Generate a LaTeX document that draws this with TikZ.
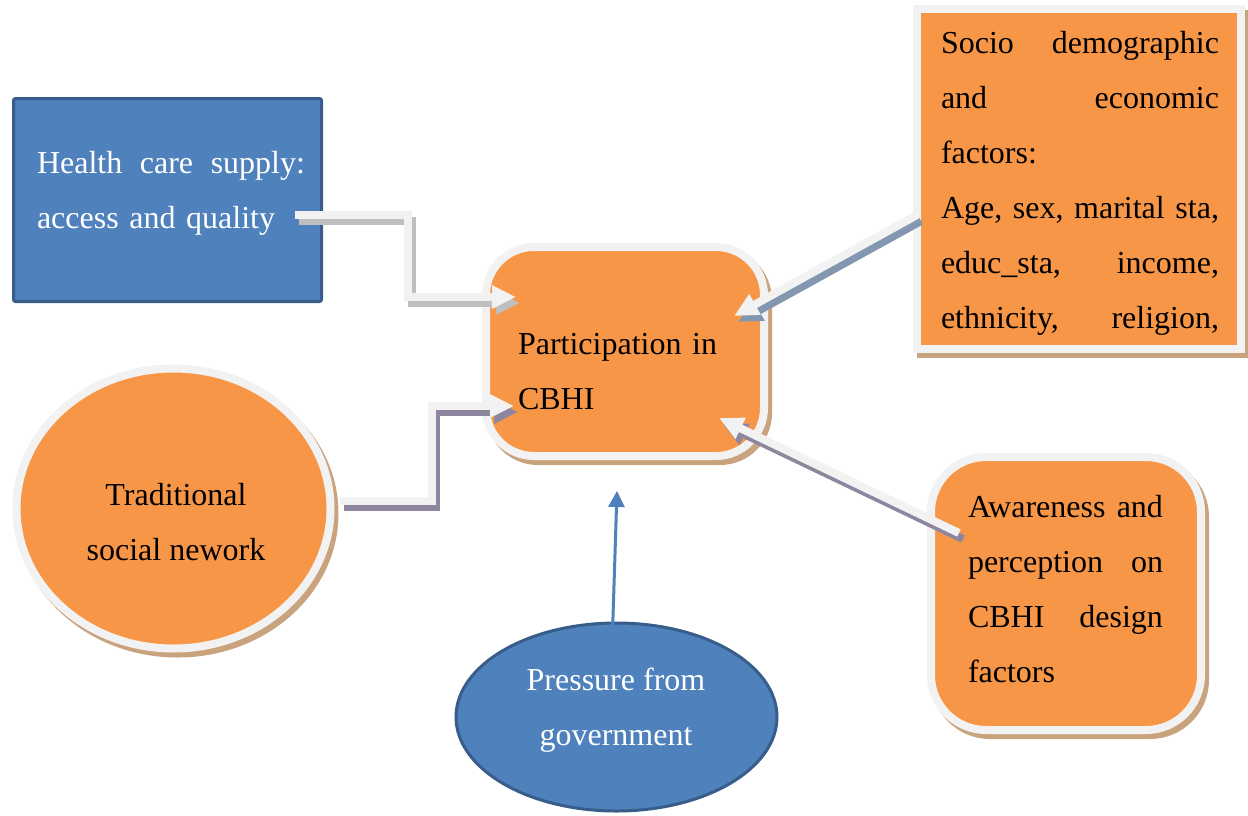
\documentclass[tikz,border=0pt]{standalone}
\usepackage{fontspec}
\setmainfont{Liberation Serif}
\usetikzlibrary{arrows.meta,shapes.geometric,shadows}
\definecolor{orng}{HTML}{F79646}
\definecolor{blu}{HTML}{4F81BD}
\definecolor{dblu}{HTML}{385D8A}
\definecolor{lgray}{HTML}{F2F2F2}
\definecolor{sbrown}{HTML}{C9A27E}
\definecolor{sgray}{HTML}{BFBFBF}
\definecolor{spurple}{HTML}{8E869E}
\definecolor{sblue}{HTML}{8497B0}
\newcommand\jl[2]{\leavevmode\hbox to #1{#2}}
\begin{document}
\begin{tikzpicture}[x=1pt,y=-1pt,
  every node/.style={font=\fontsize{32}{55}\selectfont},
  txt/.style={inner sep=0pt, align=left},
  orshape/.style={fill=orng, draw=lgray, line width=8pt,
     drop shadow={shadow xshift=4pt, shadow yshift=-5pt, fill=sbrown, draw=sbrown, line width=8pt, opacity=1}},
  bluebox/.style={fill=blu, draw=dblu, line width=3pt},
  conn/.style={draw=lgray, line width=8pt, -{Triangle[width=22pt,length=24pt]}},
  connshadow/.style={line width=8pt, -{Triangle[width=22pt,length=24pt]}, transform canvas={shift={(4,6)}}},
  bluearrow/.style={draw=blu, line width=3pt, -{Triangle[width=16pt,length=16pt]}}
]
\useasboundingbox (0,0) rectangle (1248,815);
\fill[white] (0,0) rectangle (1248,815);

% shapes
\node[bluebox, rectangle, rounded corners=2pt, minimum width=308pt, minimum height=203pt] (health) at (167.5,200) {};
\node[orshape, rectangle, rounded corners=48pt, minimum width=278pt, minimum height=209pt] (cbhi) at (625,351.5) {};
\node[orshape, rectangle, minimum width=324pt, minimum height=340pt] (socio) at (1079,179) {};
\node[orshape, ellipse, inner sep=0pt, minimum width=314pt, minimum height=280pt] (trad) at (173.5,508.5) {};
\node[orshape, rectangle, rounded corners=55pt, minimum width=270pt, minimum height=273pt] (aware) at (1066,593.5) {};
\node[bluebox, ellipse, inner sep=0pt, minimum width=321pt, minimum height=188pt] (press) at (616.5,717) {};

% texts
\node[txt, text width=268pt, text=white] (healthtxt) at (171,193) {\jl{268pt}{Health\hfill care\hfill supply:}\\access and quality};
\node[txt, text width=200pt] (cbhitxt) at (618,372) {Participation in\\CBHI};
\node[txt, text width=278pt] (sociotxt) at (1080,183.5) {\jl{278pt}{Socio\hfill demographic}\\\jl{278pt}{and\hfill economic}\\factors:\\\jl{278pt}{Age,\hfill sex,\hfill marital\hfill sta,}\\\jl{278pt}{educ\_sta,\hfill income,}\\\jl{278pt}{ethnicity,\hfill religion,}};
\node[txt, align=center] (tradtxt) at (176,522.5) {Traditional\\social nework};
\node[txt, text width=195pt] (awaretxt) at (1065.5,589) {\jl{195pt}{Awareness\hfill and}\\\jl{195pt}{perception\hfill on}\\\jl{195pt}{CBHI\hfill design}\\factors};
\node[txt, align=center, text=white] (presstxt) at (616,710.5) {Pressure from\\government};

% connectors: shadows
\draw[connshadow, draw=sgray, color=sgray] ([shift={(-28.5,14.5)}]health.east) -- ++(113.5,0) |- ([shift={(34,-54.5)}]cbhi.west);
\draw[connshadow, draw=spurple, color=spurple] ([shift={(5,-7.5)}]trad.east) -- ++(92,0) |- ([shift={(32,54.5)}]cbhi.west);
\draw[connshadow, draw=sblue, color=sblue] ([shift={(4,36)}]socio.west) -- ([shift={(-34,-35.5)}]cbhi.east);
\draw[connshadow, draw=spurple, color=spurple] ([shift={(32,-60.5)}]aware.west) -- ([shift={(-49,66.5)}]cbhi.east);

% connectors
\draw[conn, color=lgray] ([shift={(-28.5,14.5)}]health.east) -- ++(113.5,0) |- ([shift={(34,-54.5)}]cbhi.west);
\draw[conn, color=lgray] ([shift={(5,-7.5)}]trad.east) -- ++(92,0) |- ([shift={(32,54.5)}]cbhi.west);
\draw[conn, color=lgray] ([shift={(4,36)}]socio.west) -- ([shift={(-34,-35.5)}]cbhi.east);
\draw[conn, color=lgray] ([shift={(32,-60.5)}]aware.west) -- ([shift={(-49,66.5)}]cbhi.east);
\draw[bluearrow, color=blu] ([shift={(-4.5,27)}]press.north) -- ([shift={(-8,31)}]cbhi.south);
\end{tikzpicture}
\end{document}
